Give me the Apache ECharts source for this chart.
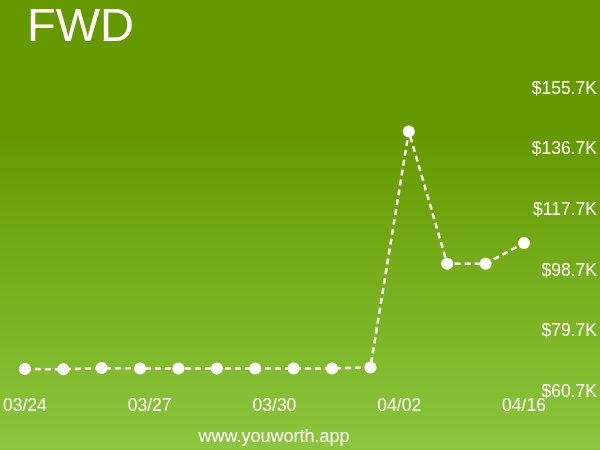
<!DOCTYPE html>
<html>
    <head>
        <meta charset="utf-8">
        <title>FWD</title>
        <style>
            html, body { margin: 0; padding: 0; }
            #chart1 { width: 600px; height: 450px; }
        </style>
    </head>
    <body>
        <div id="chart1"></div>
        <script src="https://cdn.jsdelivr.net/npm/echarts@6/dist/echarts.min.js"></script>
        <script type="text/javascript">
            // data
            var dates = ['03/24','03/25','03/26','03/27','03/28','03/29','03/30',
                         '03/31','04/01','04/02','04/05','04/08','04/12','04/16'];
            var values = [67900, 67800, 68200, 68100, 68100, 68100, 68100,
                          68100, 68100, 68400, 142400, 100900, 100900, 107400];
            var tickLabels = ['03/24', '03/27', '03/30', '04/02', '04/16'];
            var yTicks = [60700, 79700, 98700, 117700, 136700, 155700];

            var font = '"Liberation Sans", Arial, sans-serif';
            var myChart = echarts.init(document.getElementById('chart1'));
            var option = {
                backgroundColor: {
                    type: 'linear', x: 0, y: 0, x2: 0, y2: 1,
                    colorStops: [
                        { offset: 0, color: '#669900' },
                        { offset: 0.3, color: '#669900' },
                        { offset: 1, color: '#8cc63f' }
                    ]
                },
                animation: false,
                title: {
                    text: 'FWD',
                    left: 22,
                    top: 0,
                    textStyle: { color: '#fff', fontSize: 47, fontWeight: 'normal', fontFamily: font }
                },
                grid: { left: 24, right: 76, top: 89, bottom: 58 },
                xAxis: [{
                    type: 'category',
                    data: dates,
                    boundaryGap: false,
                    show: false
                }, {
                    type: 'category',
                    data: tickLabels,
                    boundaryGap: false,
                    position: 'bottom',
                    axisLine: { show: false },
                    axisTick: { show: false },
                    axisLabel: { color: '#fff', fontSize: 17.5, margin: 5, fontFamily: font, interval: 0 }
                }],
                yAxis: {
                    type: 'value',
                    position: 'right',
                    min: yTicks[0],
                    max: yTicks[yTicks.length - 1],
                    interval: yTicks[1] - yTicks[0],
                    splitLine: { show: false },
                    axisLine: { show: false },
                    axisTick: { show: false },
                    axisLabel: {
                        color: '#fff', fontSize: 17.5, fontFamily: font,
                        align: 'right', margin: 73,
                        formatter: function (v) { return '$' + (v / 1000).toFixed(1) + 'K'; }
                    }
                },
                graphic: [{
                    type: 'text',
                    x: 274,
                    y: 437,
                    style: {
                        text: 'www.youworth.app', fill: '#fff', font: '18px ' + font,
                        align: 'center', verticalAlign: 'middle'
                    }
                }],
                series: [{
                    type: 'line',
                    xAxisIndex: 0,
                    data: values,
                    symbol: 'circle',
                    symbolSize: 12,
                    itemStyle: { color: '#fff' },
                    lineStyle: { color: '#fff', width: 2.5, type: [6, 4] }
                }]
            };
            myChart.setOption(option);
        </script>
    </body>
</html>
